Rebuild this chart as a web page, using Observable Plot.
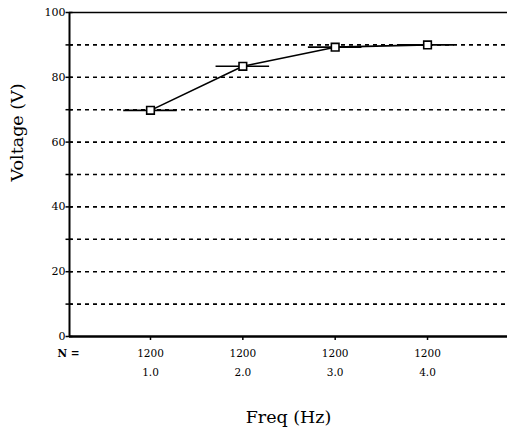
<!DOCTYPE html>
<html>
<head>
<meta charset="utf-8">
<script src="https://cdn.jsdelivr.net/npm/d3@7"></script>
<script src="https://cdn.jsdelivr.net/npm/@observablehq/plot@0.6"></script>
<style>
  html, body { margin: 0; padding: 0; background: #fff; }
  svg { display: block; }
</style>
</head>
<body>
<div id="chart"></div>
<script>
const freqs = [1.0, 2.0, 3.0, 4.0];
const freqLabels = ["1.0", "2.0", "3.0", "4.0"];
const counts = [1200, 1200, 1200, 1200];
const voltage = [69.8, 83.4, 89.3, 90.0];
const spread = [0.29, 0.29, 0.29, 0.29];
const gridValues = [10, 20, 30, 40, 50, 60, 70, 80, 90];
const yTickValues = [0, 10, 20, 30, 40, 50, 60, 70, 80, 90, 100];
const yLabelValues = [0, 20, 40, 60, 80, 100];

const data = freqs.map((f, i) => ({
  freq: f, label: freqLabels[i], n: counts[i], v: voltage[i],
  lo: f - spread[i], hi: f + spread[i]
}));

const xDomain = [0.123, 4.866];
const serif = "DejaVu Serif";

const chart = Plot.plot({
  width: 507,
  height: 429,
  marginLeft: 69,
  marginRight: 0,
  marginTop: 12,
  marginBottom: 93,
  style: { fontFamily: serif, fontSize: "11px", color: "#000", background: "#fff" },
  x: { domain: xDomain, axis: null },
  y: { domain: [0, 100], axis: null },
  marks: [
    Plot.ruleY(gridValues, { stroke: "#000", strokeWidth: 1.6, strokeDasharray: "4,4" }),
    Plot.ruleY([100], { stroke: "#000", strokeWidth: 1.5 }),
    Plot.ruleY([0], { stroke: "#000", strokeWidth: 2.5 }),
    Plot.ruleX([xDomain[0]], { stroke: "#000", strokeWidth: 2 }),
    Plot.axisY({ ticks: yTickValues, tickSize: 7, dx: 3.5, tickFormat: () => "", label: null, strokeWidth: 1.5 }),
    Plot.axisY({ ticks: yLabelValues, tickSize: 0, tickPadding: 4, label: null, fontSize: 11, fontFamily: serif }),
    Plot.axisX({ ticks: freqs, tickSize: 4, tickFormat: () => "", label: null, strokeWidth: 1.5 }),
    Plot.text(data, { x: "freq", text: d => String(d.n), frameAnchor: "bottom", dy: 17, lineAnchor: "middle", fontSize: 10.5, fontFamily: serif }),
    Plot.text(data, { x: "freq", text: "label", frameAnchor: "bottom", dy: 36, lineAnchor: "middle", fontSize: 10.5, fontFamily: serif }),
    Plot.text(["N ="], { frameAnchor: "bottom-left", dx: -12, dy: 17, textAnchor: "start", lineAnchor: "middle", fontSize: 10.5, fontWeight: "bold", fontFamily: serif }),
    Plot.text(["Freq (Hz)"], { frameAnchor: "bottom", dy: 81, lineAnchor: "middle", fontSize: 17.5, fontFamily: serif }),
    Plot.text(["Voltage (V)"], { frameAnchor: "left", dx: -52, dy: 7, rotate: -90, lineAnchor: "middle", fontSize: 17.5, fontFamily: serif }),
    Plot.ruleY(data, { y: "v", x1: "lo", x2: "hi", stroke: "#000", strokeWidth: 1.6 }),
    Plot.line(data, { x: "freq", y: "v", stroke: "#000", strokeWidth: 1.6 }),
    Plot.dot(data, { x: "freq", y: "v", symbol: "square", r: 4.3, fill: "#fff", stroke: "#000", strokeWidth: 1.6 })
  ]
});

document.getElementById("chart").appendChild(chart);
</script>
</body>
</html>
